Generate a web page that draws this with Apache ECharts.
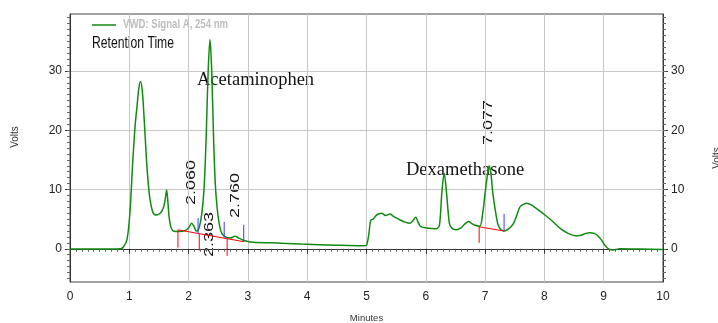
<!DOCTYPE html>
<html>
<head>
<meta charset="utf-8">
<script src="https://cdn.jsdelivr.net/npm/echarts@6/dist/echarts.min.js"></script>
<style>html,body{margin:0;padding:0;background:#fff}#c{width:718px;height:323px}</style>
</head>
<body>
<div id="c"></div>
<script>
// ---- data ----
const times = [0,0.5,0.85,0.9,0.96,1.01,1.06,1.10,1.13,1.16,1.19,1.22,1.25,1.29,1.32,1.35,1.40,1.46,1.52,1.57,1.60,1.63,1.65,1.67,1.70,1.74,1.85,1.95,2.00,2.05,2.09,2.13,2.16,2.20,2.24,2.27,2.30,2.33,2.36,2.39,2.42,2.45,2.48,2.52,2.56,2.62,2.70,2.78,2.85,2.95,3.09,3.4,3.9,4.5,4.95,5.0,5.04,5.07,5.11,5.16,5.21,5.26,5.30,5.33,5.37,5.40,5.45,5.50,5.56,5.65,5.73,5.78,5.83,5.87,5.91,6.02,6.18,6.23,6.27,6.31,6.35,6.40,6.45,6.52,6.60,6.66,6.72,6.77,6.82,6.91,6.96,7.00,7.04,7.07,7.10,7.13,7.18,7.22,7.27,7.32,7.40,7.48,7.54,7.59,7.65,7.70,7.78,7.88,8.01,8.14,8.26,8.40,8.52,8.62,8.70,8.77,8.84,8.90,8.96,9.02,9.08,9.16,9.27,9.6,10];
const volts = [-0.05,-0.05,0,0.3,1.5,6,15,21,24,27,28.2,26.5,22,15,11,8.3,6.1,5.7,6.0,6.8,8,9.9,8,5.5,3.7,3.0,2.9,3.1,3.5,4.3,3.8,3.0,3.1,4.5,7.5,12,20,30,35.3,30,19,11,7,4,2.6,2.0,1.8,2.1,1.8,1.35,1.1,1.0,0.8,0.6,0.5,0.6,2.5,4.8,5.0,5.6,5.9,6.0,5.7,5.6,5.8,5.85,5.5,5.2,4.9,4.5,4.3,4.7,5.3,4.5,3.8,3.5,3.4,4.0,9.4,12.8,9.4,4.2,3.4,3.2,3.6,4.2,4.6,4.3,4.0,3.8,6,9.4,12.5,14.0,12.5,9.4,6,4.0,3.2,3.0,3.4,4.3,5.8,7.1,7.5,7.7,7.4,6.7,5.7,4.6,3.5,2.6,2.2,2.3,2.6,2.7,2.6,2.2,1.5,0.6,0.0,-0.2,0,-0.05,-0.1];

// integration baselines (red)
const baseSegT = [[1.82, 2.93], [6.90, 7.32]];
const baseSegV = [[3.2, 1.2], [3.7, 3.0]];
// peak start markers (red)
const startT = [1.82, 2.18, 2.65, 6.90];
const startTop = [3.2, 2.57, 1.7, 3.7];
const startBottom = [0.2, -0.3, -1.2, 1.0];
// peak end markers (blue)
const endT = [2.16, 2.60, 2.93, 7.32];
const endBottom = [2.5, 1.85, 1.2, 3.0];
const endTop = [5.2, 4.55, 4.05, 5.9];

const peakLabels = ['2.060', '2.363', '2.760', '7.077'];
const compoundNames = ['Acetaminophen', 'Dexamethasone'];

const xTicks = [0,1,2,3,4,5,6,7,8,9,10];
const yTickValues = [0, 10, 20, 30];
const yMinorValues = [];
for (let v = -5; v <= 39; v++) yMinorValues.push(v);

const seriesName = 'VWD: Signal A, 254 nm';
const yMin = -5.6, yMax = 39.6;

// ---- build ----
const trace = times.map((t, i) => [t, volts[i]]);
const baseData = [];
baseSegT.forEach((seg, i) => { baseData.push([seg[0], baseSegV[i][0]], [seg[1], baseSegV[i][1]], [seg[1], null]); });
startT.forEach((t, i) => { baseData.push([t, startTop[i]], [t, startBottom[i]], [t, null]); });
const blueData = [];
endT.forEach((t, i) => { blueData.push([t, endBottom[i]], [t, endTop[i]], [t, null]); });

const SANS = "'Liberation Sans',Arial,sans-serif";
const SERIF = "'Liberation Serif','Times New Roman',serif";
const GREEN = '#128a12';

function yAxisMajor(pos) {
  return {
    type: 'value', position: pos, min: yMin, max: yMax,
    axisLine: { show: true, lineStyle: { color: '#333', width: 1 } },
    axisTick: { show: true, length: 5, inside: false, customValues: yTickValues, lineStyle: { color: '#333' } },
    axisLabel: { show: true, customValues: yTickValues, margin: 8, fontFamily: SANS, fontSize: 12, color: '#222' },
    splitLine: { show: pos === 'left', lineStyle: { color: '#c8c8c8', width: 1 } }
  };
}
function yAxisMinor(pos) {
  return {
    type: 'value', position: pos, min: yMin, max: yMax,
    axisLine: { show: false },
    axisTick: { show: true, length: 3, inside: false, customValues: yMinorValues, lineStyle: { color: '#666' } },
    axisLabel: { show: false },
    splitLine: { show: false }
  };
}

const chart = echarts.init(document.getElementById('c'), null, { renderer: 'canvas' });
chart.setOption({
  animation: false,
  backgroundColor: '#fff',
  grid: { left: 70, right: 55, top: 14, bottom: 41, outerBoundsMode: 'none', containLabel: false,
    show: true, borderColor: '#444', borderWidth: 1, backgroundColor: 'transparent' },
  xAxis: {
    type: 'value', min: 0, max: 10, interval: 1,
    name: 'Minutes', nameLocation: 'middle', nameGap: 31,
    nameTextStyle: { fontFamily: SANS, fontSize: 9.5, color: '#333' },
    axisLine: { show: true, lineStyle: { color: '#333' } },
    axisTick: { show: true, length: 5, lineStyle: { color: '#333' } },
    minorTick: { show: true, splitNumber: 10, length: 3, lineStyle: { color: '#666' } },
    axisLabel: { margin: 9, fontFamily: SANS, fontSize: 12, color: '#222',
      formatter: v => xTicks.includes(v) ? String(v) : '' },
    splitLine: { show: true, lineStyle: { color: '#c8c8c8', width: 1 } }
  },
  yAxis: [yAxisMajor('left'), yAxisMinor('left'), yAxisMajor('right'), yAxisMinor('right')],
  series: [
    { name: seriesName, type: 'line', data: trace, yAxisIndex: 0, symbol: 'none', smooth: 0.3,
      lineStyle: { color: GREEN, width: 1.5 }, itemStyle: { color: GREEN }, z: 3 },
    { name: 'baseline', type: 'line', data: baseData, yAxisIndex: 0, symbol: 'none', connectNulls: false,
      lineStyle: { color: '#ff0000', width: 1 }, silent: true, z: 4 },
    { name: 'end', type: 'line', data: blueData, yAxisIndex: 0, symbol: 'none', connectNulls: false,
      lineStyle: { color: '#3a3aff', width: 1 }, silent: true, z: 4 }
  ],
  graphic: [
    { type: 'line', shape: { x1: 92, y1: 25, x2: 116, y2: 25 }, style: { stroke: GREEN, lineWidth: 1.5 } },
    { type: 'text', x: 123, y: 25, scaleX: 0.8, style: { text: seriesName, fontFamily: SANS, fontWeight: 'bold', fontSize: 12, fill: '#bdbdbd', verticalAlign: 'middle' } },
    { type: 'text', x: 92, y: 44, scaleX: 0.76, style: { text: 'Retention Time', fontFamily: SANS, fontSize: 16, fill: '#111', verticalAlign: 'middle' } },
    { type: 'text', x: 197, y: 80, style: { text: compoundNames[0], fontFamily: SERIF, fontSize: 18.5, fill: '#111', verticalAlign: 'middle' } },
    { type: 'text', x: 406, y: 170, style: { text: compoundNames[1], fontFamily: SERIF, fontSize: 18.5, fill: '#111', verticalAlign: 'middle' } },
    { type: 'text', x: 192, y: 205, rotation: Math.PI / 2, scaleX: 1.5, style: { text: peakLabels[0], fontFamily: SANS, fontSize: 12, fill: '#111', align: 'left', verticalAlign: 'middle' } },
    { type: 'text', x: 210, y: 257, rotation: Math.PI / 2, scaleX: 1.5, style: { text: peakLabels[1], fontFamily: SANS, fontSize: 12, fill: '#111', align: 'left', verticalAlign: 'middle' } },
    { type: 'text', x: 236, y: 218, rotation: Math.PI / 2, scaleX: 1.5, style: { text: peakLabels[2], fontFamily: SANS, fontSize: 12, fill: '#111', align: 'left', verticalAlign: 'middle' } },
    { type: 'text', x: 489, y: 145, rotation: Math.PI / 2, scaleX: 1.5, style: { text: peakLabels[3], fontFamily: SANS, fontSize: 12, fill: '#111', align: 'left', verticalAlign: 'middle' } },
    { type: 'text', x: 15, y: 137, rotation: Math.PI / 2, style: { text: 'Volts', fontFamily: SANS, fontSize: 10, fill: '#333', align: 'center', verticalAlign: 'middle' } },
    { type: 'text', x: 717, y: 158, rotation: Math.PI / 2, style: { text: 'Volts', fontFamily: SANS, fontSize: 10, fill: '#333', align: 'center', verticalAlign: 'middle' } }
  ]
});
</script>
</body>
</html>
